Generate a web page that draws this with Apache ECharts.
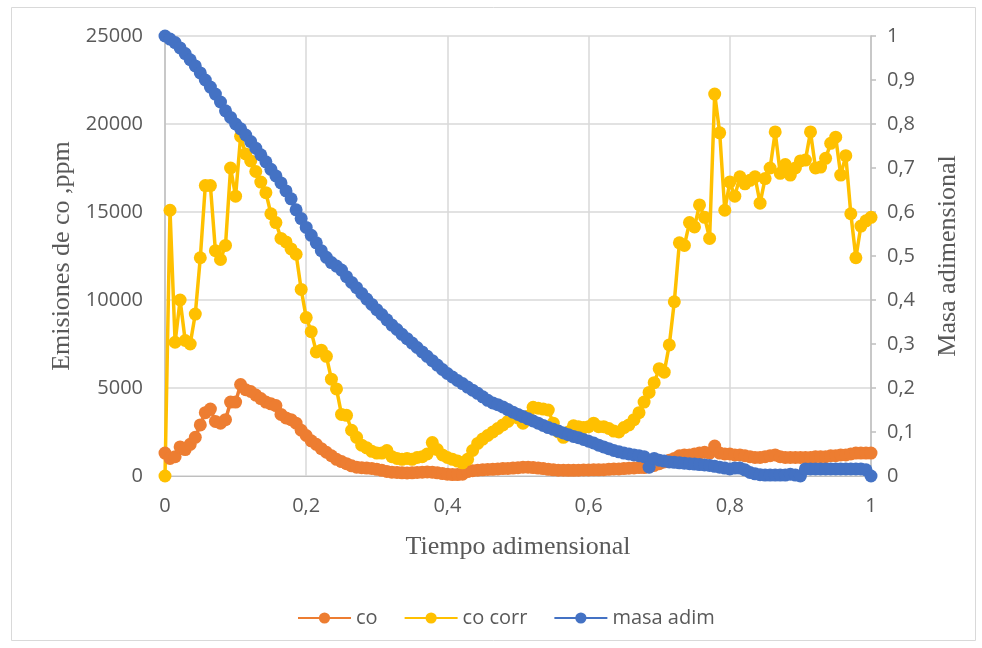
<!DOCTYPE html>
<html>
<head>
<meta charset="utf-8">
<script src="https://cdn.jsdelivr.net/npm/echarts@6/dist/echarts.min.js"></script>
<style>
html,body{margin:0;padding:0;background:#fff;}
#chart{width:982px;height:648px;}
</style>
</head>
<body>
<div id="chart"></div>
<script>
// Tiempo adimensional (x values)
var tiempo = [
0,0.0071,0.0143,0.0214,0.0286,0.0357,0.0429,0.05,0.0571,0.0643,0.0714,0.0786,0.0857,0.0929,
0.1,0.1071,0.1143,0.1214,0.1286,0.1357,0.1429,0.15,0.1571,0.1643,0.1714,0.1786,0.1857,0.1929,
0.2,0.2071,0.2143,0.2214,0.2286,0.2357,0.2429,0.25,0.2571,0.2643,0.2714,0.2786,0.2857,0.2929,
0.3,0.3071,0.3143,0.3214,0.3286,0.3357,0.3429,0.35,0.3571,0.3643,0.3714,0.3786,0.3857,0.3929,
0.4,0.4071,0.4143,0.4214,0.4286,0.4357,0.4429,0.45,0.4571,0.4643,0.4714,0.4786,0.4857,0.4929,
0.5,0.5071,0.5143,0.5214,0.5286,0.5357,0.5429,0.55,0.5571,0.5643,0.5714,0.5786,0.5857,0.5929,
0.6,0.6071,0.6143,0.6214,0.6286,0.6357,0.6429,0.65,0.6571,0.6643,0.6714,0.6786,0.6857,0.6929,
0.7,0.7071,0.7143,0.7214,0.7286,0.7357,0.7429,0.75,0.7571,0.7643,0.7714,0.7786,0.7857,0.7929,
0.8,0.8071,0.8143,0.8214,0.8286,0.8357,0.8429,0.85,0.8571,0.8643,0.8714,0.8786,0.8857,0.8929,
0.9,0.9071,0.9143,0.9214,0.9286,0.9357,0.9429,0.95,0.9571,0.9643,0.9714,0.9786,0.9857,0.9929,
1
];
// co (ppm)
var co = [
1300,1000,1100,1650,1500,1800,2200,2900,3600,3800,3100,3000,3200,4200,
4200,5200,4900,4800,4600,4400,4200,4100,4000,3500,3300,3200,3000,2600,
2300,2000,1800,1550,1350,1150,950,820,700,580,500,470,450,430,
380,320,260,220,200,180,170,180,200,220,230,220,180,140,
100,80,80,100,250,300,330,350,370,380,400,420,430,450,
470,500,500,480,450,420,380,350,330,330,320,320,330,340,
340,350,350,360,380,400,400,420,440,460,480,480,520,600,
700,800,900,1000,1150,1200,1200,1250,1300,1350,1300,1700,1300,1250,
1250,1200,1200,1150,1100,1050,1050,1100,1150,1200,1100,1050,1050,1050,
1050,1050,1050,1100,1100,1100,1150,1150,1200,1200,1250,1300,1300,1300,
1300
];
// co corr (ppm)
var coCorr = [
0,15100,7600,10000,7700,7500,9200,12400,16500,16500,12800,12300,13100,17500,
15900,19300,18300,17900,17300,16700,16100,14900,14400,13500,13300,12900,12600,10600,
9000,8200,7050,7150,6800,5500,4950,3500,3450,2600,2200,1750,1600,1400,
1300,1300,1450,1100,1000,950,1000,950,1050,1100,1250,1900,1500,1200,
1050,950,850,750,950,1450,1850,2100,2300,2500,2700,2900,3100,3350,
3300,3000,3400,3900,3850,3800,3750,3000,2500,2200,2500,2850,2800,2750,
2800,3000,2800,2800,2700,2550,2500,2750,2900,3200,3600,4200,4750,5300,
6100,5900,7450,9900,13250,13100,14400,14150,15400,14700,13500,21700,19500,15100,
16700,15900,17000,16600,16800,17000,15500,16900,17500,19550,17200,17700,17100,17500,
17900,17950,19550,17500,17550,18050,18900,19250,17100,18200,14900,12400,14200,14500,
14700
];
// masa adim (right axis)
var masaAdim = [
1,0.993,0.985,0.973,0.96,0.946,0.932,0.916,0.9,0.884,0.868,0.85,0.83,0.815,
0.8,0.789,0.775,0.76,0.745,0.73,0.714,0.697,0.682,0.666,0.648,0.63,0.605,0.585,
0.565,0.547,0.53,0.512,0.497,0.485,0.477,0.468,0.453,0.44,0.428,0.415,0.402,0.39,
0.378,0.367,0.355,0.343,0.333,0.322,0.312,0.302,0.292,0.282,0.272,0.262,0.252,0.242,
0.233,0.225,0.217,0.21,0.202,0.195,0.188,0.18,0.172,0.166,0.162,0.157,0.151,0.145,
0.14,0.135,0.13,0.125,0.12,0.115,0.11,0.106,0.102,0.098,0.094,0.09,0.087,0.083,
0.079,0.075,0.07,0.066,0.062,0.058,0.055,0.052,0.05,0.048,0.046,0.044,0.02,0.04,
0.036,0.034,0.032,0.031,0.03,0.029,0.028,0.027,0.026,0.025,0.024,0.022,0.02,0.018,
0.016,0.018,0.018,0.014,0.008,0.005,0.003,0.002,0.002,0.002,0.002,0.002,0.004,0.002,
0,0.016,0.016,0.016,0.016,0.016,0.016,0.016,0.016,0.016,0.016,0.016,0.016,0.014,
0
];
var seriesNames = ['co', 'co corr', 'masa adim'];
var axisTitles = { x: 'Tiempo adimensional', yLeft: 'Emisiones de co ,ppm', yRight: 'Masa adimensional' };

function pairs(ys) { return tiempo.map(function (t, i) { return [t, ys[i]]; }); }
function comma(v) { return String(Math.round(v * 10) / 10).replace('.', ','); }
function plain(v) { return String(v); }

var labelFont = "'Open Sans', sans-serif";
var titleFont = "'Liberation Serif', 'Times New Roman', serif";

var chart = echarts.init(document.getElementById('chart'), null, { renderer: 'canvas' });
function mkSeries(name, data, color, yIdx) {
  return {
    name: name, type: 'line', data: pairs(data), yAxisIndex: yIdx,
    symbol: 'circle', symbolSize: 13, showSymbol: true,
    lineStyle: { color: color, width: 3.5 },
    itemStyle: { color: color, borderWidth: 0 },
    emphasis: { disabled: true }
  };
}
chart.setOption({
  animation: false,
  backgroundColor: '#ffffff',
  graphic: [{
    type: 'rect', shape: { x: 11.5, y: 7.5, width: 964, height: 633 },
    style: { fill: 'none', stroke: '#d9d9d9', lineWidth: 1 }, silent: true, z: -10
  }],
  grid: { left: 165, right: 111, top: 36, bottom: 172 },
  legend: {
    data: seriesNames, left: 292, top: 603, itemWidth: 53, itemHeight: 14, itemGap: 26,
    textStyle: { color: '#595959', fontSize: 20, fontFamily: labelFont }
  },
  xAxis: {
    type: 'value', min: 0, max: 1, interval: 0.2,
    name: axisTitles.x, nameLocation: 'middle', nameGap: 58,
    nameTextStyle: { color: '#595959', fontSize: 26, fontFamily: titleFont },
    axisLine: { show: true, onZero: false, lineStyle: { color: '#bfbfbf', width: 1 } },
    axisTick: { show: false },
    axisLabel: { color: '#595959', fontSize: 20, fontFamily: labelFont, margin: 20, formatter: comma },
    splitLine: { show: true, lineStyle: { color: '#d9d9d9', width: 1.5 } }
  },
  yAxis: [{
    type: 'value', min: 0, max: 25000, interval: 5000, position: 'left',
    name: axisTitles.yLeft, nameLocation: 'middle', nameGap: 86,
    nameTextStyle: { color: '#595959', fontSize: 26, fontFamily: titleFont },
    axisLine: { show: true, lineStyle: { color: '#bfbfbf', width: 1.5 } },
    axisTick: { show: false },
    axisLabel: { color: '#595959', fontSize: 20, fontFamily: labelFont, margin: 22, formatter: plain },
    splitLine: { show: true, lineStyle: { color: '#d9d9d9', width: 1.5 } }
  }, {
    type: 'value', min: 0, max: 1, interval: 0.1, position: 'right',
    name: axisTitles.yRight, nameLocation: 'middle', nameGap: 64,
    nameTextStyle: { color: '#595959', fontSize: 26, fontFamily: titleFont },
    axisLine: { show: true, lineStyle: { color: '#bfbfbf', width: 1.5 } },
    axisTick: { show: true, inside: false, length: 5, lineStyle: { color: '#bfbfbf', width: 1.5 } },
    axisLabel: { color: '#595959', fontSize: 20, fontFamily: labelFont, margin: 16, formatter: comma },
    splitLine: { show: false }
  }],
  series: [
    mkSeries(seriesNames[0], co, '#ED7D31', 0),
    mkSeries(seriesNames[1], coCorr, '#FFC000', 0),
    mkSeries(seriesNames[2], masaAdim, '#4472C4', 1)
  ]
});
</script>
</body>
</html>
